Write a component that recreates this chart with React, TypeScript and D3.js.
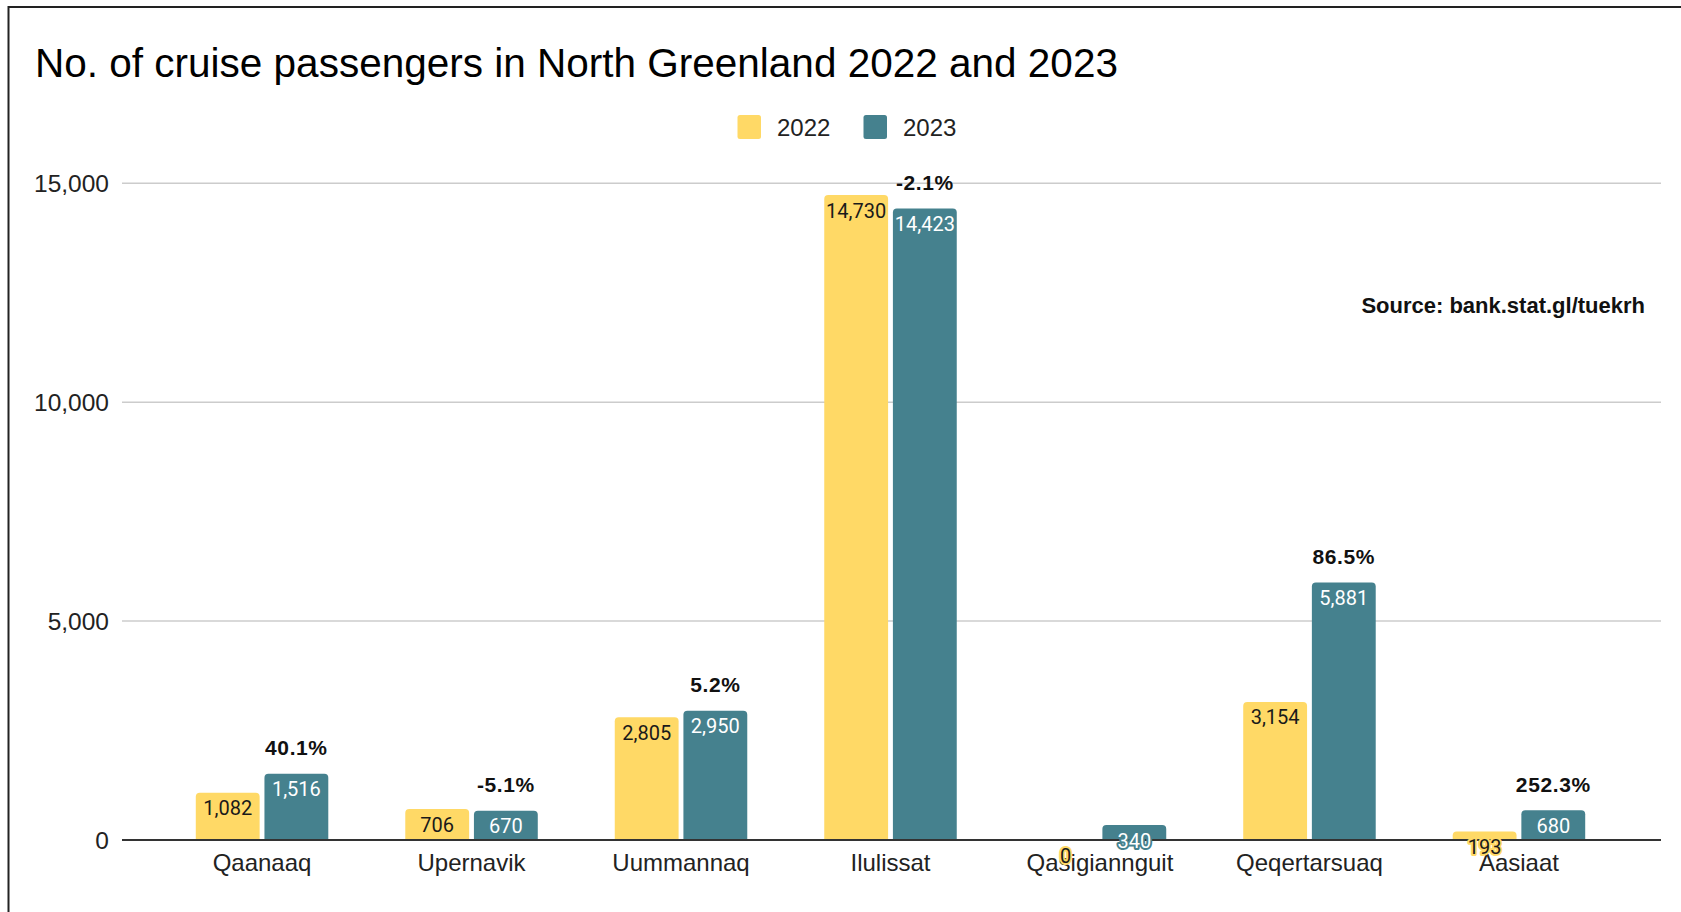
import React from 'react';
import * as d3 from 'd3';

const categories = ['Qaanaaq', 'Upernavik', 'Uummannaq', 'Ilulissat', 'Qasigiannguit', 'Qeqertarsuaq', 'Aasiaat'];
const seriesNames = ['2022', '2023'];
const values2022 = [1082, 706, 2805, 14730, 0, 3154, 193];
const values2023 = [1516, 670, 2950, 14423, 340, 5881, 680];
const changeLabels = ['40.1%', '-5.1%', '5.2%', '-2.1%', '', '86.5%', '252.3%'];
const yTicks = [0, 5000, 10000, 15000];

const W = 1681;
const H = 912;
const COLORS = ['#ffd966', '#45818e'];
const LABEL_COLORS = ['#1a1a1a', '#ffffff'];
const ARIAL = 'Arial, "Liberation Sans", Helvetica, sans-serif';
const ROBOTO = 'Roboto, Arial, sans-serif';

function topRoundedBar(x: number, y: number, w: number, h: number, r: number) {
  const rr = Math.min(r, h, w / 2);
  const p = d3.path();
  p.moveTo(x, y + h);
  p.lineTo(x, y + rr);
  p.quadraticCurveTo(x, y, x + rr, y);
  p.lineTo(x + w - rr, y);
  p.quadraticCurveTo(x + w, y, x + w, y + rr);
  p.lineTo(x + w, y + h);
  p.closePath();
  return p.toString();
}

export default function App() {
  const y = d3.scaleLinear().domain([0, 15000]).range([840, 183.3]);
  const x0 = d3.scaleBand<string>().domain(categories).range([157.3, 1623.7]).padding(0);
  const groupW = 132.5;
  const x1 = d3.scaleBand<string>().domain(seriesNames).range([0, groupW]).paddingInner(0.07);
  const groupX = (c: string) => (x0(c) as number) + (x0.bandwidth() - groupW) / 2;
  const fmt = d3.format(',');
  const series = [values2022, values2023];

  return (
    <svg
      width={W}
      height={H}
      style={{ position: 'absolute', left: 0, top: 0, background: '#fff' }}
    >
      <rect x={0} y={0} width={W} height={H} fill="#fff" />
      {/* frame */}
      <rect x={8.5} y={7} width={W + 20} height={H + 20} fill="none" stroke="#222" strokeWidth={2} />

      <text x={35} y={77} fontFamily={ARIAL} fontSize={40.5} fill="#000">
        No. of cruise passengers in North Greenland 2022 and 2023
      </text>

      {/* legend */}
      {seriesNames.map((s, i) => {
        const lx = 737.5 + i * 126;
        return (
          <g key={s}>
            <rect x={lx} y={115} width={23.5} height={24} rx={2.5} fill={COLORS[i]} />
            <text x={lx + 39.5} y={135.5} fontFamily={ARIAL} fontSize={24} fill="#222">
              {s}
            </text>
          </g>
        );
      })}

      {/* gridlines & y labels */}
      {yTicks.map((t) => (
        <g key={t}>
          {t !== 0 && (
            <line x1={122} x2={1661} y1={y(t)} y2={y(t)} stroke="#cccccc" strokeWidth={1.5} />
          )}
          <text
            x={109}
            y={y(t) + 8.5}
            textAnchor="end"
            fontFamily={ARIAL}
            fontSize={24.5}
            fill="#222"
          >
            {fmt(t)}
          </text>
        </g>
      ))}

      {/* source */}
      <text x={1645} y={313} textAnchor="end" fontFamily={ARIAL} fontWeight="bold" fontSize={22} fill="#111">
        Source: bank.stat.gl/tuekrh
      </text>

      {/* x labels */}
      {categories.map((c) => (
        <text
          key={c}
          x={(x0(c) as number) + x0.bandwidth() / 2}
          y={871}
          textAnchor="middle"
          fontFamily={ARIAL}
          fontSize={24}
          fill="#222"
        >
          {c}
        </text>
      ))}

      {/* bars */}
      {categories.map((c, ci) => (
        <g key={c} transform={`translate(${groupX(c)},0)`}>
          {seriesNames.map((s, si) => {
            const v = series[si][ci];
            const bx = x1(s) as number;
            const by = y(v);
            const h = y(0) - by;
            return h > 0 ? (
              <path key={s} d={topRoundedBar(bx, by, x1.bandwidth(), h, 4)} fill={COLORS[si]} />
            ) : null;
          })}
        </g>
      ))}

      {/* zero axis */}
      <line x1={122} x2={1661} y1={y(0)} y2={y(0)} stroke="#333" strokeWidth={2.2} />

      {/* data labels */}
      {categories.map((c, ci) => (
        <g key={c} transform={`translate(${groupX(c)},0)`}>
          {seriesNames.map((s, si) => {
            const v = series[si][ci];
            const cx = (x1(s) as number) + x1.bandwidth() / 2;
            return (
              <text
                key={s}
                x={cx}
                y={y(v) + 22.5}
                textAnchor="middle"
                fontFamily={ROBOTO}
                fontSize={20}
                fill={LABEL_COLORS[si]}
                stroke={COLORS[si]}
                strokeWidth={4}
                strokeLinejoin="round"
                paintOrder="stroke"
              >
                {fmt(v)}
              </text>
            );
          })}
          {changeLabels[ci] && (
            <text
              x={(x1('2023') as number) + x1.bandwidth() / 2}
              y={y(values2023[ci]) - 18.5}
              textAnchor="middle"
              fontFamily={ARIAL}
              fontWeight="bold"
              fontSize={21}
              letterSpacing={0.6}
              fill="#111"
            >
              {changeLabels[ci]}
            </text>
          )}
        </g>
      ))}
    </svg>
  );
}
